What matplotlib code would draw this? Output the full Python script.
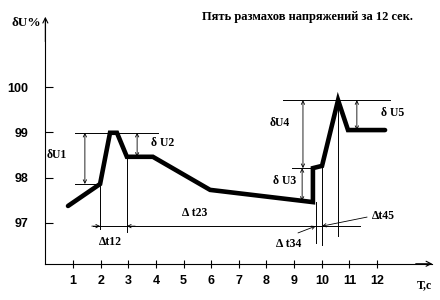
import numpy as np
import matplotlib.pyplot as plt

# Кривая отклонения напряжения (T, c ; dU, %)
t = [0.82, 1.98, 2.34, 2.59, 2.95, 3.89, 5.96, 9.68, 9.68, 10.01, 10.59, 10.95, 12.29]
u = [97.375, 97.86, 98.99, 98.99, 98.46, 98.46, 97.73, 97.46, 98.21, 98.26, 99.71, 99.05, 99.05]

x_ticks = [1, 2, 3, 4, 5, 6, 7, 8, 9, 10, 11, 12]
y_ticks = [97, 98, 99, 100]

title = "Пять размахов напряжений за 12 сек."
serif = "Liberation Serif"
sans = "Liberation Sans"

fig = plt.figure(figsize=(4.4, 3.0), dpi=100)
ax = fig.add_axes([0, 0, 1, 1])
ax.set_xlim(-1.641, 14.278)
ax.set_ylim(95.30, 101.92)

# Оси
x0, y0 = 0.0, 96.1
ax.spines['left'].set_position(('data', x0))
ax.spines['bottom'].set_position(('data', y0))
ax.spines['left'].set_bounds(y0, 101.5)
ax.spines['bottom'].set_bounds(x0, 13.98)
ax.spines['top'].set_visible(False)
ax.spines['right'].set_visible(False)
for s in ['left', 'bottom']:
    ax.spines[s].set_linewidth(0.8)
ax.annotate("", xy=(x0, 101.55), xytext=(x0, 101.0),
            arrowprops=dict(arrowstyle='->', lw=0.8, mutation_scale=9, shrinkA=0, shrinkB=0))
ax.annotate("", xy=(14.0, y0), xytext=(13.4, y0),
            arrowprops=dict(arrowstyle='->', lw=0.8, mutation_scale=9, shrinkA=0, shrinkB=0))

ax.set_xticks(x_ticks)
ax.set_yticks(y_ticks)
ax.set_xticklabels([str(v) for v in x_ticks], fontfamily=sans, fontweight='bold', fontsize=9)
ax.set_yticklabels([str(v) for v in y_ticks], fontfamily=sans, fontweight='bold', fontsize=9)
ax.tick_params(axis='x', direction='inout', length=6, width=0.8, pad=5)
ax.tick_params(axis='y', direction='in', length=6, width=0.8, pad=12)

# Кривая
ax.plot(t, u, color='black', lw=3.3, solid_joinstyle='miter', solid_capstyle='round')

thin = dict(color='black', lw=0.7)
arr2 = dict(arrowstyle='<->', lw=0.6, mutation_scale=6, shrinkA=0, shrinkB=0)
arr1 = dict(arrowstyle='->', lw=0.6, mutation_scale=6, shrinkA=0, shrinkB=0)
lab = dict(fontfamily=serif, fontweight='bold', fontsize=8.5, ha='center', va='center')

# dU1, dU2
ax.plot([1.07, 4.08], [u[2], u[2]], **thin)
ax.plot([1.07, t[1]], [u[1], u[1]], **thin)
ax.annotate("", xy=(1.43, u[2]), xytext=(1.43, u[1]), arrowprops=arr2)
ax.text(0.42, 98.5, "δU1", **lab)
ax.annotate("", xy=(3.32, u[2]), xytext=(3.32, u[4]), arrowprops=arr2)
ax.text(4.26, 98.76, "δ U2", **lab)

# Вертикальные выноски
yt = 96.93
ax.plot([t[1], t[1]], [u[1], 96.86], **thin)
ax.plot([t[4], t[4]], [u[4], 96.80], **thin)
ax.plot([t[7] + 0.1, t[7] + 0.1], [u[7], 96.56], **thin)
ax.plot([t[9], t[9]], [u[9], 96.52], **thin)
ax.plot([t[10], t[10]], [u[10], 96.71], **thin)

# Интервалы dt
ax.plot([1.72, 11.38], [yt, yt], **thin)
ax.annotate("", xy=(t[1], yt), xytext=(t[1] - 0.3, yt), arrowprops=arr1)
ax.annotate("", xy=(t[4], yt), xytext=(t[4] + 0.3, yt), arrowprops=arr1)
ax.annotate("", xy=(t[7] + 0.1, yt), xytext=(9.14, 96.78), arrowprops=arr1)
ax.annotate("", xy=(t[9], yt), xytext=(11.64, 97.13), arrowprops=arr1)
ax.text(2.37, 96.58, "Δt12", **lab)
ax.text(5.41, 97.22, "Δ t23", **lab)
ax.text(8.81, 96.54, "Δ t34", **lab)
ax.text(12.22, 97.15, "Δt45", **lab)

# dU3, dU4, dU5
ax.plot([8.92, t[8]], [u[8], u[8]], **thin)
ax.annotate("", xy=(9.29, u[8]), xytext=(9.29, np.interp(9.29, t[6:8], u[6:8])), arrowprops=arr2)
ax.text(8.67, 97.93, "δ U3", **lab)
ax.plot([8.60, 12.47], [u[10], u[10]], **thin)
ax.annotate("", xy=(9.32, u[10]), xytext=(9.32, u[8]), arrowprops=arr2)
ax.text(8.49, 99.21, "δU4", **lab)
ax.annotate("", xy=(11.27, u[10]), xytext=(11.27, u[11]), arrowprops=arr2)
ax.text(12.58, 99.43, "δ U5", **lab)

# Подписи
ax.text(-0.70, 101.41, "δU%", fontfamily=serif, fontweight='bold', fontsize=9.5, ha='center', va='center')
ax.text(13.73, 95.63, "T,c", **lab)
ax.text(9.50, 101.54, title, fontfamily=serif, fontweight='bold', fontsize=9, ha='center', va='center')

fig.savefig("out.png", dpi=100)
